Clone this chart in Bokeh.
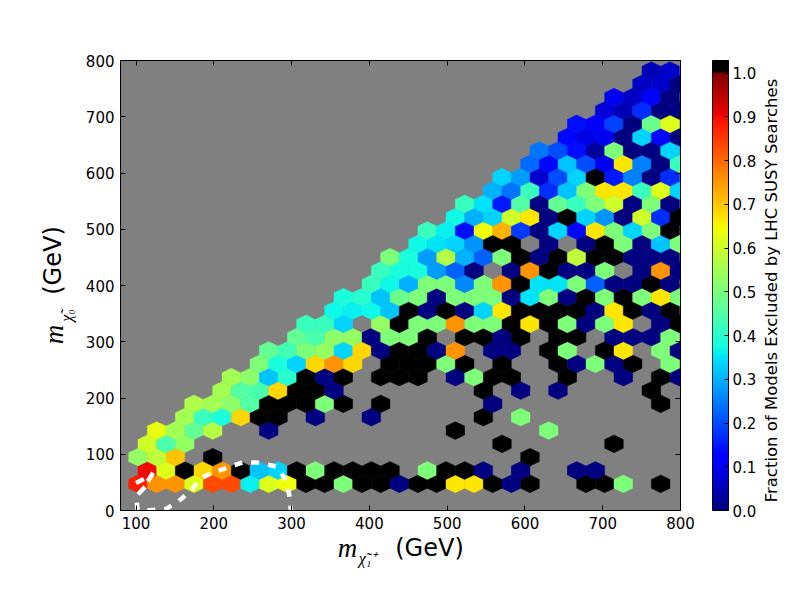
import numpy as np
from bokeh.embed import file_html
from bokeh.resources import INLINE
from bokeh.plotting import figure
from bokeh.layouts import row
from bokeh.models import (ColumnDataSource, LinearColorMapper, FixedTicker, LinearAxis,
                          Label, NumeralTickFormatter, Range1d)

N = None
B = 1.0     # black: fully excluded
Z = 0.0     # navy
H = 0.5
Y = 0.667
O = 0.75
C = 0.333

# each row: first occupied column, then values
r02 = (0, [.88,O,O,.62,.83,.83,.36,.62,.64,B,B,H,B,B,Z,B,B,Y,Y,B,Z,B,N,N,B,B,H,N,B])
r03 = (1, [.9,.62,B,.68,O,B,.32,C,B,H,B,B,B,B,N,H,B,B,Z,N,Z,N,N,Z,Z])
r04 = (0, [.53,.58,.7,N,B,N,N,N,N,N,N,N,N,N,N,N,N,N,N,N,N,B])
r05 = (1, [.6,.44,.53,N,N,N,N,N,N,N,N,N,N,N,N,N,N,N,N,B,N,N,N,N,N,B])
r06 = (1, [.63,.55,.47,.57,N,N,Z,N,N,N,N,N,N,N,N,N,B,N,N,N,N,H])
r07 = (3, [.55,.42,.38,.68,B,B,N,Z,N,N,Z,N,N,N,N,N,B,N,H])
r08 = (3, [.56,.55,.52,.45,B,B,B,H,B,N,B,N,N,N,N,N,Z,N,N,N,N,N,N,N,N,B])
r09 = (5, [.55,.45,.44,.68,B,B,Z,N,N,N,N,N,N,N,B,N,Z,N,Z,N,N,N,N,B])
r10 = (5, [.55,.52,.32,.4,B,Z,B,N,B,B,B,N,Z,H,B,B,N,N,B,N,N,Z,N,B,Z])
r11 = (7, [H,.38,C,.68,O,.68,N,B,B,B,H,B,N,B,N,N,B,Z,H,Z,B,N,H])
r12 = (7, [.47,.43,H,.53,C,.68,Z,B,B,Z,O,N,Z,Z,N,B,H,N,B,Y,N,H,Z])
r13 = (9, [.47,.44,.52,.53,Z,H,H,B,N,B,B,Z,B,N,B,B,N,Z,Z,Z,H])
r14 = (9, [.42,.42,C,N,.53,B,H,H,O,H,H,B,Y,B,H,Z,H,Y,N,Z,B])
r15 = (11, [.37,.36,.37,.32,B,Z,B,Z,C,Y,B,B,B,B,Z,Y,B,Z,B])
r16 = (11, [.38,.4,.32,.48,H,Z,H,H,H,Z,.35,H,Z,B,H,B,H,Y,H])
r17 = (13, [.42,.37,.3,H,H,.26,H,O,B,.35,.35,H,.22,Z,Z,B,Z])
r18 = (13, [.42,.38,.38,.28,.22,Z,N,Z,O,B,Z,Z,H,N,Z,O,Z])
r19 = (14, [H,.38,.28,.57,.3,.22,H,B,Z,B,.58,B,B,Z,Z,Z])
r20 = (15, [.37,.35,C,.27,B,B,N,Z,N,Z,B,H,Z,.32,H])
r21 = (16, [.42,.36,.14,.64,.72,.18,Z,C,.13,Y,H,C,H,B])
r22 = (17, [.37,.3,C,.6,Y,Z,B,C,.27,Z,.6,.17,B])
r23 = (18, [.42,.35,.15,.45,Z,.47,.42,H,.6,Z,H,Z])
r24 = (19, [.3,.24,.42,.17,.32,H,Y,Y,.42,.62,C])
r25 = (20, [C,.28,.07,.2,C,B,.15,.25,Z,.17])
r26 = (21, [.23,.13,.32,.2,.1,Y,.25,Z,.42])
r27 = (22, [.24,.2,.14,.03,H,Z,Z,C])
r28 = (23, [.13,.09,.1,Z,C,.13,Z])
r29 = (24, [.14,.12,.19,Z,.48,.62])
r30 = (25, [.08,.05,.17,Z,Z])
r31 = (26, [.1,.06,.12,Z])
r32 = (27, [.06,.07,Z])
r33 = (28, [.05,.07])

rows = {2:r02,3:r03,4:r04,5:r05,6:r06,7:r07,8:r08,9:r09,10:r10,11:r11,12:r12,13:r13,14:r14,15:r15,
        16:r16,17:r17,18:r18,19:r19,20:r20,21:r21,22:r22,23:r23,24:r24,25:r25,26:r26,27:r27,
        28:r28,29:r29,30:r30,31:r31,32:r32,33:r33}

# exclusion contour (GeV)
contour_x = [101,102,118,139,155,171,184,198,217,238,259,280,292,297,299]
contour_y = [14,1,0.5,3,17,36,58,67,76,86,85,78,56,28,0]
stub_x = [[102.6,111.5],[115,122],[100,110]]
stub_y = [[29,42],[52,67],[49,56]]

x_ticks = [100,200,300,400,500,600,700,800]
y_ticks = [0,100,200,300,400,500,600,700,800]
cb_ticks = [0.0,0.1,0.2,0.3,0.4,0.5,0.6,0.7,0.8,0.9,1.0]

# jet colormap plus a black "over" band
def jet(t):
    r = np.interp(t,[0,.35,.66,.89,1],[0,0,1,1,.5])
    g = np.interp(t,[0,.125,.375,.64,.91,1],[0,0,1,1,0,0])
    b = np.interp(t,[0,.11,.34,.65,1],[.5,1,1,0,0])
    return "#%02x%02x%02x" % (int(r*255+.5),int(g*255+.5),int(b*255+.5))
palette = [jet(i/255) for i in range(256)] + ["#000000"]*8
high = 264/256
mapper = LinearColorMapper(palette=palette, low=0, high=high)

DX, DY = 24.0, 23.7
xs, ys, vs = [], [], []
for k, (start, vals) in rows.items():
    x0 = 102.5 if k % 2 == 0 else 90.5
    yc = k*DY
    for i, v in enumerate(vals):
        if v is None:
            continue
        xc = x0 + (start+i)*DX
        xs.append([xc-DX/2, xc-DX/2, xc, xc+DX/2, xc+DX/2, xc])
        ys.append([yc-DY/3, yc+DY/3, yc+2*DY/3, yc+DY/3, yc-DY/3, yc-2*DY/3])
        vs.append(v)
src = ColumnDataSource(dict(xs=xs, ys=ys, v=vs))

p = figure(width=700, height=592, output_backend="svg", toolbar_location=None,
           x_range=Range1d(80,800), y_range=Range1d(0,800),
           frame_width=560, frame_height=450,
           min_border_left=120, min_border_right=20, min_border_top=60, min_border_bottom=82)
p.background_fill_color = "#808080"
p.grid.visible = False
p.outline_line_color = "black"
p.outline_line_width = 1
p.patches("xs","ys",source=src,fill_color={"field":"v","transform":mapper},
          line_color={"field":"v","transform":mapper},line_width=0.4)
p.line(contour_x,contour_y,line_color="white",line_width=4.5,line_dash="8 9")
p.multi_line(stub_x,stub_y,line_color="white",line_width=4.5)

bottom = p.below[0]; left = p.left[0]
top = LinearAxis(); right = LinearAxis()
p.add_layout(top,"above"); p.add_layout(right,"right")
for ax,t in ((bottom,x_ticks),(left,y_ticks),(top,x_ticks),(right,y_ticks)):
    ax.ticker = FixedTicker(ticks=t)
    ax.major_tick_in = 5; ax.major_tick_out = 0
    ax.minor_tick_line_color = None
    ax.axis_line_color = "black"
    ax.major_tick_line_color = "black"
    ax.major_label_text_font = "DejaVu Sans"
    ax.major_label_text_font_size = "15px"
    ax.major_label_text_color = "black"
    ax.major_label_standoff = 6
for ax in (top,right):
    ax.major_label_text_font_size = "0px"
    ax.major_label_text_color = None
    ax.major_label_standoff = 0

def add_text(fig, side, x, y, text, size, font="DejaVu Sans", style="normal", angle=0):
    # a label lives in its own side panel; x, y are measured from that panel's lower left corner
    fig.add_layout(Label(x=x, y=y, x_units="screen", y_units="screen", text=text,
                         text_font=font, text_font_style=style, text_font_size=size,
                         text_align="center", text_baseline="middle", angle=angle,
                         angle_units="deg", text_color="black"), side)

# x label pieces
add_text(p,"below",227,14,"m","27px","Liberation Serif","italic")
add_text(p,"below",309,42,"(GeV)","24px")
add_text(p,"above",247,-498,"\u03c7\u0303\u2081\u207a","16px","Liberation Serif","italic")
# y label pieces
add_text(p,"left",1,176,"m","27px","Liberation Serif","italic",90)
add_text(p,"left",31,195,"\u03c7\u0303\u2080","16px","Liberation Serif","italic",90)
add_text(p,"left",45,250,"(GeV)","24px",angle=90)

# colour bar
cb = figure(width=92, height=592, output_backend="svg", toolbar_location=None,
            x_range=Range1d(0,1), y_range=Range1d(0,1.029),
            frame_width=16, frame_height=450,
            min_border_left=12, min_border_right=64, min_border_top=60, min_border_bottom=82,
            y_axis_location="right")
cb_levels = np.linspace(0, high, 528).reshape(-1, 1)
cb.image(image=[cb_levels], x=0, y=0, dw=1, dh=high, color_mapper=mapper)
cb.grid.visible = False
cb.xaxis.visible = False
cb.outline_line_color = "black"
ya = cb.right[0]
ya.ticker = FixedTicker(ticks=cb_ticks)
ya.formatter = NumeralTickFormatter(format="0.0")
ya.major_tick_in = 4; ya.major_tick_out = 0
ya.major_tick_line_color = "black"
ya.axis_line_color = "black"
ya.minor_tick_line_color = None
ya.major_label_text_font = "DejaVu Sans"
ya.major_label_text_font_size = "15px"
ya.major_label_text_color = "black"
ya.major_label_standoff = 4
add_text(cb,"right",12,220,"Fraction of Models Excluded by LHC SUSY Searches","16.5px",angle=90)

page = row(p, cb, spacing=0)
open("out.html","w").write(file_html(page, INLINE))
